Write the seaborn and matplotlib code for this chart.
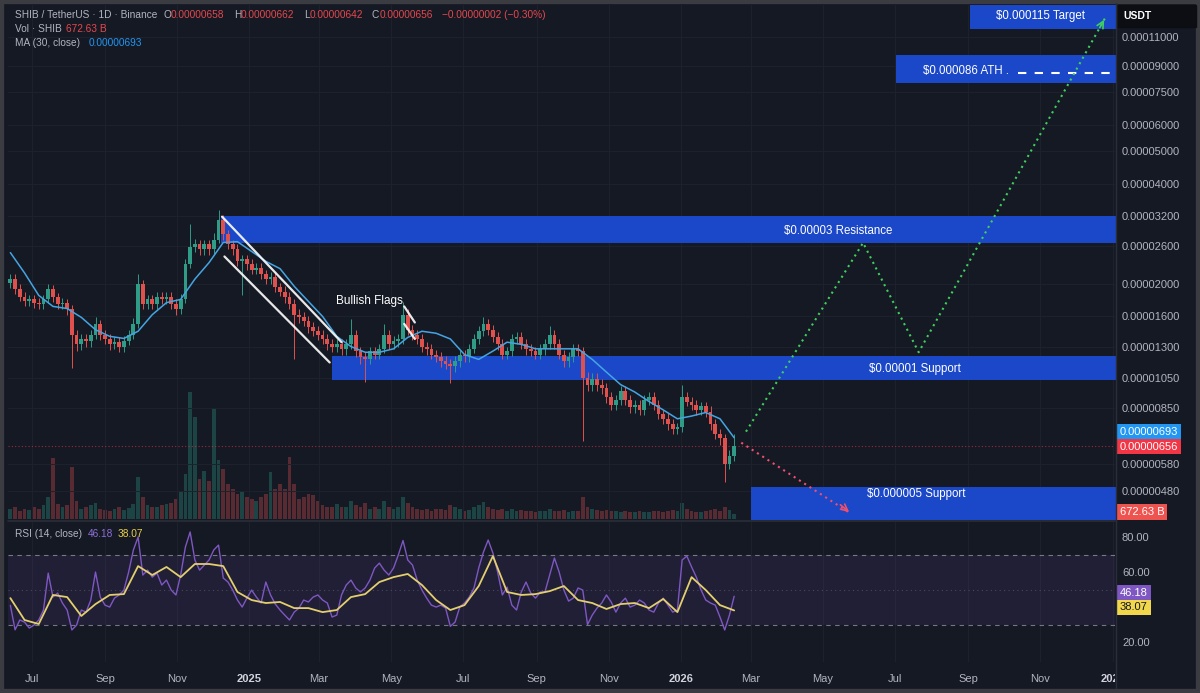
import matplotlib
matplotlib.use("Agg")
import matplotlib.pyplot as plt
import matplotlib.dates as mdates
from matplotlib.patches import Rectangle
from matplotlib.lines import Line2D
from matplotlib.ticker import NullLocator
from matplotlib.transforms import blended_transform_factory, Bbox, TransformedBbox
import numpy as np
import pandas as pd
import seaborn as sns

# ---- data ----
# 4-day candles from 2024-06-13, prices in units of 1e-6 USDT
candle_start = "2024-06-13"
candle_step = "4D"
first_open_e6 = 20.2

close_e6 = [
    20.7, 19.3, 18.35, 17.75, 18.0, 17.6, 17.4, 18.0, 19.3, 18.25,
    17.4, 17.6, 16.8, 14.1, 13.2, 13.7, 13.5, 14.1, 15.2, 14.1,
    13.7, 13.2, 13.4, 12.95, 13.5, 14.1, 15.2, 20.0, 17.4, 18.0,
    17.4, 18.25, 18.0, 18.35, 17.4, 16.8, 18.0, 22.9, 25.75, 26.3,
    25.4, 26.3, 25.4, 27.2, 31.2, 28.2, 26.3, 25.4, 23.4, 23.7,
    22.9, 22.1, 22.4, 21.4, 20.7, 21.0, 19.55, 19.0, 18.25, 17.4,
    16.2, 15.9, 15.5, 14.85, 14.45, 14.1, 13.7, 13.2, 12.95, 13.2,
    12.8, 13.2, 14.1, 12.6, 12.1, 11.9, 12.6, 12.3, 12.8, 14.1,
    13.2, 13.5, 13.7, 16.2, 14.6, 14.1, 13.7, 12.95, 12.8, 12.3,
    12.1, 11.75, 11.5, 11.35, 11.75, 12.3, 12.15, 12.8, 13.7, 14.45,
    15.2, 14.6, 13.9, 13.2, 12.3, 12.6, 13.7, 13.9, 13.2, 12.8,
    12.6, 12.3, 12.8, 13.2, 14.1, 13.2, 12.3, 11.75, 12.1, 12.8,
    12.6, 10.5, 10.0, 10.4, 10.0, 9.8, 9.15, 8.7, 9.0, 9.55,
    9.0, 8.55, 8.7, 8.4, 9.0, 9.15, 8.7, 8.15, 7.9, 7.6,
    7.35, 7.45, 9.15, 8.9, 8.7, 8.4, 8.6, 8.3, 7.6, 7.1,
    6.9, 5.8, 6.1, 6.56,
]
high_e6 = [
    21.4, 21.4, 20.0, 19.0, 18.6, 18.6, 18.2, 18.6, 20.0, 19.9,
    18.8, 18.2, 18.1, 17.3, 14.6, 14.2, 14.2, 14.6, 15.9, 15.6,
    14.6, 14.2, 13.9, 13.9, 14.0, 14.6, 15.8, 21.4, 20.6, 18.6,
    18.6, 18.9, 18.9, 19.0, 19.0, 18.0, 18.7, 23.7, 30.2, 27.3,
    27.2, 27.2, 27.2, 28.5, 33.4, 32.3, 29.1, 27.2, 26.3, 24.5,
    24.5, 23.7, 23.2, 23.2, 22.1, 21.7, 21.7, 20.2, 19.7, 18.9,
    18.0, 16.8, 16.5, 16.0, 15.4, 15.0, 14.6, 14.2, 13.7, 13.7,
    13.7, 13.7, 15.7, 14.6, 13.0, 12.5, 13.0, 13.0, 13.2, 15.2,
    14.6, 14.0, 14.2, 17.7, 16.8, 15.1, 14.6, 14.2, 13.4, 13.2,
    12.7, 12.5, 12.2, 11.9, 12.2, 12.7, 12.7, 13.2, 14.2, 15.0,
    15.9, 15.7, 15.1, 14.4, 13.7, 13.0, 14.2, 14.4, 14.4, 13.7,
    13.2, 13.0, 13.2, 13.7, 15.0, 14.6, 13.7, 12.7, 12.5, 13.2,
    13.2, 13.0, 10.9, 10.8, 10.8, 10.4, 10.1, 9.5, 9.3, 9.9,
    9.9, 9.3, 9.0, 9.0, 9.3, 9.5, 9.5, 9.0, 8.4, 8.2,
    7.9, 7.7, 10.0, 9.5, 9.2, 9.0, 8.9, 8.9, 8.6, 7.9,
    7.35, 7.1, 6.35, 7.1,
]
low_e6 = [
    19.5, 18.7, 17.8, 17.2, 17.2, 17.0, 16.8, 16.9, 17.6, 17.7,
    16.9, 16.9, 16.2, 11.2, 12.6, 12.7, 13.0, 13.0, 13.7, 13.6,
    13.2, 12.7, 12.8, 12.5, 12.5, 13.1, 13.7, 14.8, 16.9, 16.9,
    16.8, 16.9, 17.4, 17.4, 16.8, 16.2, 16.3, 17.5, 22.3, 24.9,
    24.5, 24.5, 24.5, 24.6, 26.6, 27.2, 25.4, 24.5, 22.6, 18.6,
    22.1, 21.4, 21.4, 20.7, 20.0, 20.0, 18.9, 18.4, 17.6, 16.8,
    11.9, 15.3, 15.0, 14.3, 14.0, 13.6, 13.2, 12.7, 12.5, 12.5,
    12.3, 12.3, 12.8, 12.1, 11.5, 10.2, 11.5, 11.9, 11.9, 12.4,
    12.8, 12.8, 13.0, 13.2, 14.1, 13.6, 13.2, 12.5, 12.3, 11.9,
    11.7, 11.3, 11.1, 10.1, 10.9, 11.3, 11.7, 11.7, 12.4, 13.2,
    14.0, 14.1, 13.4, 12.7, 11.9, 11.9, 12.2, 13.2, 12.8, 12.3,
    12.2, 11.9, 11.9, 12.3, 12.8, 12.8, 11.9, 11.3, 11.3, 11.7,
    12.2, 6.8, 9.6, 9.6, 9.6, 9.4, 8.8, 8.4, 8.4, 8.7,
    8.7, 8.2, 8.2, 8.1, 8.1, 8.7, 8.4, 7.9, 7.6, 7.3,
    7.1, 7.1, 7.2, 8.6, 8.4, 8.1, 8.1, 8.0, 7.3, 6.85,
    6.6, 5.1, 5.6, 5.9,
]
# volume in billions of SHIB
vol_b = [
    1265, 1520, 1010, 1265, 1140, 1520, 1265, 1770, 2780, 7720, 1900,
    1520, 1770, 6580, 2280, 1265, 1520, 1770, 2020, 1265, 1140,
    1010, 1265, 1520, 1140, 1390, 1900, 5310, 2780, 1770, 1520,
    1520, 1770, 1900, 2020, 2530, 3540, 5690, 16070, 12900, 5060,
    6070, 4810, 14040, 7460, 6330, 4430, 3800, 3160, 3540, 2780,
    2530, 2280, 2780, 3160, 5950, 3800, 4430, 3800, 7840, 4430,
    2530, 2780, 3160, 3040, 2280, 1770, 1520, 1520, 1900, 1520,
    1520, 2280, 1770, 1520, 2020, 1265, 1520, 1265, 2280, 1520,
    1265, 1520, 2780, 2020, 1520, 1265, 1140, 1265, 1010, 1265,
    1265, 1140, 1770, 1520, 1265, 1010, 1140, 1520, 1770, 2150,
    1520, 1265, 1140, 1265, 1010, 1265, 1010, 1140, 1010, 1010,
    890, 1010, 1010, 1265, 1010, 1010, 1140, 890, 1010, 1010,
    2780, 1520, 1265, 1140, 1010, 1140, 1010, 1010, 890, 1010,
    890, 890, 1010, 890, 890, 1010, 1010, 890, 1010, 1140,
    1010, 2020, 1265, 1010, 890, 890, 1010, 1140, 1265, 1010,
    1520, 1140, 672.63,
]
rsi = [
    41, 27, 32.6, 31.4, 28, 29.7, 32.6, 38.3, 59.4, 45.7,
    48, 42.3, 38.3, 26.9, 29.7, 38.3, 37.1, 44, 60, 45.7,
    41.1, 40, 45.1, 46.9, 49.7, 60, 72.6, 80, 58.3, 61.1,
    57.1, 59.4, 52.6, 55.4, 49.7, 46.9, 58.3, 74.3, 82.9, 66.9,
    61.1, 64, 66.9, 72.6, 75.4, 56.6, 54.3, 49.7, 44, 40,
    45.1, 49.7, 45.7, 42.3, 54.3, 46.9, 41.7, 38.3, 35.4, 32.6,
    37.1, 39.4, 44, 42.9, 45.7, 46.9, 44, 42.3, 34.3, 35.4,
    46.9, 52.6, 55.4, 50.9, 48.6, 50.9, 55.4, 62.3, 65.1, 61.1,
    58.3, 62.3, 69.7, 78, 66.9, 64, 55.4, 49.7, 45.1, 41.1,
    40, 41.1, 39.4, 29, 31.4, 40, 42.3, 45.7, 50.9, 62.3,
    71.4, 78.3, 70.9, 60, 46.9, 51.4, 41.1, 38.3, 48.6, 54.3,
    48, 45.1, 48.6, 48.6, 58.3, 68, 60, 49.7, 43.4, 45.1,
    50.9, 49.7, 30, 35.4, 39.4, 42.3, 46.9, 42.9, 37.1, 42.3,
    45.1, 40, 41.1, 44, 42.3, 38.3, 37.1, 42.3, 45.1, 41.1,
    37.1, 38.3, 66.9, 69.1, 62.9, 57.1, 49.7, 44, 42.3, 41.1,
    34.3, 26.9, 35.4, 46.18,
]
# every third candle
ma30_e6 = [
    24.85, 21.6, 18.5, 17.15, 16.9, 15.9, 14.6, 13.95, 13.75, 14.45,
    16.2, 17.6, 18.0, 20.7, 23.2, 26.65, 26.8, 25.05, 23.4, 22.25,
    19.7, 17.75, 16.0, 13.95, 13.0, 12.5, 12.5, 12.8, 13.85, 14.45,
    14.25, 13.7, 12.3, 11.9, 12.6, 13.4, 13.2, 12.8, 12.8, 12.8,
    12.8, 11.9, 10.9, 10.0, 9.5, 8.9, 8.4, 7.9, 8.05, 8.25,
    7.9, 6.93,
]
rsi_ma = [
    45.1, 32.6, 30.3, 46.9, 45.7, 34.9, 41.7, 46.9, 47.4, 63.4,
    58.3, 62.9, 57.1, 64.6, 64.6, 63.4, 48.6, 44, 42.3, 42.9,
    39.4, 39.4, 37.1, 38.3, 45.7, 47.4, 54.3, 57.1, 58.9, 52.6,
    44, 38.3, 41.1, 52, 69.1, 48.6, 46.9, 47.4, 49.1, 52,
    44, 42.3, 38.9, 41.7, 42.3, 39.4, 44.6, 37.1, 57.1, 49.7,
    41.1, 38.07,
]
price_ticks_e6 = [110, 90, 75, 60, 50, 40, 32, 26, 20, 16, 13, 10.5, 8.5, 5.8, 4.8]
rsi_ticks = [20, 60, 80]

# drawn zones and projections
zone_names = ["$0.00003 Resistance", "$0.00001 Support", "$0.000005 Support",
              "$0.000086 ATH .", "$0.000115 Target"]
zone_start = ["2024-12-08", "2025-03-12", "2026-03-01", "2026-07-02", "2026-09-02"]
zone_low_e6 = [26.6, 10.3, 3.5, 80.1, 116.0]
zone_high_e6 = [31.9, 12.2, 4.94, 97.2, 145.0]
zone_text_at = ["2026-05-14", "2026-07-18", "2026-07-19", "2026-08-30", "2026-11-01"]
zone_text_e6 = [28.9, 11.1, 4.71, 87.1, 127.0]
ath_e6 = 86.0
ath_dash_from = "2026-10-13"
bull_dates = ["2026-02-25", "2026-06-04", "2026-07-21", "2026-12-26"]
bull_e6 = [7.23, 26.6, 12.5, 126.0]
bear_dates = ["2026-02-21", "2026-05-25"]
bear_e6 = [6.7, 4.1]
trend_lines = [
    (["2024-12-09", "2025-03-20"], [31.85, 13.4]),
    (["2024-12-11", "2025-03-10"], [24.2, 11.65]),
    (["2025-05-12", "2025-05-21"], [17.15, 15.35]),
    (["2025-05-12", "2025-05-21"], [15.2, 13.7]),
]

# ---- styling ----
BG = "#151924"
GRID = "#1e222d"
TXT = "#b2b5be"
UP, DN = "#2e9c86", "#e0514e"
BLUE = "#1b47c9"

sns.set_theme(style="dark", rc={"axes.facecolor": BG, "figure.facecolor": BG})
plt.rcParams["font.family"] = ["Liberation Sans", "DejaVu Sans"]

W, H = 1200, 693
fig = plt.figure(figsize=(W / 100, H / 100), dpi=100)


def rect(x0, y0, x1, y1):
    return [x0 / W, 1 - y1 / H, (x1 - x0) / W, (y1 - y0) / H]


vol_ax = fig.add_axes(rect(8, 5, 1115, 519))
ax = fig.add_axes(rect(8, 5, 1115, 519))
rax = fig.add_axes(rect(8, 522, 1115, 662))
ax.set_facecolor("none")

dates = pd.date_range(candle_start, periods=len(close_e6), freq=candle_step)
x = mdates.date2num(dates)
c = np.array(close_e6) * 1e-6
o = np.r_[first_open_e6 * 1e-6, c[:-1]]
hi = np.array(high_e6) * 1e-6
lo = np.array(low_e6) * 1e-6
cols = np.where(c >= o, UP, DN)
xmin = mdates.date2num(pd.Timestamp("2024-06-11"))
xmax = mdates.date2num(pd.Timestamp("2027-01-03"))
d2n = lambda s: mdates.date2num(pd.to_datetime(s))

# volume
vol_ax.bar(x, vol_b, width=3.2, color=cols, alpha=0.33, linewidth=0)
vol_ax.set_xlim(xmin, xmax)
vol_ax.set_ylim(0, 65000)
vol_ax.set_xticks([])
vol_ax.set_yticks([])

# price pane
ax.set_yscale("log")
for nm, s, lo_, hi_, tx, ty in zip(zone_names, zone_start, zone_low_e6, zone_high_e6,
                                   zone_text_at, zone_text_e6):
    ax.fill_between([d2n(s), xmax + 10], lo_ * 1e-6, hi_ * 1e-6, color=BLUE, lw=0, zorder=2)
    ax.text(d2n(tx), ty * 1e-6, nm, color="white", fontsize=8.3, ha="center",
            va="center", zorder=7)
ax.plot([d2n(ath_dash_from), xmax], [ath_e6 * 1e-6] * 2, color="white", lw=1.5,
        ls=(0, (4, 4)), zorder=6)

ax.vlines(x, lo, hi, colors=cols, lw=0.7, zorder=3)
ax.bar(x, np.maximum(np.abs(c - o), 0.006 * c), bottom=np.minimum(o, c), width=3.2,
       color=cols, linewidth=0, zorder=4)
sns.lineplot(x=x[::3], y=np.array(ma30_e6) * 1e-6, ax=ax, color="#45a5e2", lw=1.1,
             zorder=5, legend=False)

for ds, ps in trend_lines:
    ax.plot([d2n(d) for d in ds], np.array(ps) * 1e-6, color="white", lw=1.6,
            alpha=0.9, zorder=6)
ax.text(d2n("2025-04-13"), 17.75e-6, "Bullish Flags", color="white", fontsize=8.5,
        ha="center", va="center", zorder=7)

ax.plot([d2n(d) for d in bull_dates], np.array(bull_e6) * 1e-6, color="#3fcf5c",
        lw=1.5, ls=(0, (1, 2)), zorder=6)
ax.plot([d2n(d) for d in bear_dates], np.array(bear_e6) * 1e-6, color="#f0506e",
        lw=1.5, ls=(0, (1, 2)), zorder=6)
ax.annotate("", xy=(d2n(bull_dates[-1]), bull_e6[-1] * 1e-6),
            xytext=(d2n("2026-12-20"), 115.4e-6),
            arrowprops=dict(arrowstyle="->", color="#3fcf5c", lw=1.2), zorder=6)
ax.annotate("", xy=(d2n(bear_dates[-1]), bear_e6[-1] * 1e-6),
            xytext=(d2n("2026-05-14"), 4.42e-6),
            arrowprops=dict(arrowstyle="->", color="#f0506e", lw=1.2), zorder=6)
ax.axhline(close_e6[-1] * 1e-6, color="#f23645", lw=0.8, ls=(0, (1, 2)), alpha=0.6,
           zorder=2.5)

ax.set_xlim(xmin, xmax)
ax.set_ylim(3.958e-6, 1.371e-4)
ax.yaxis.tick_right()
ax.set_yticks([v * 1e-6 for v in price_ticks_e6],
              [f"{v * 1e-6:.8f}" for v in price_ticks_e6])
ax.yaxis.set_minor_locator(NullLocator())
ax.tick_params(axis="y", length=0, pad=5, labelsize=8, labelcolor=TXT)

xt = pd.date_range("2024-07-01", "2027-01-01", freq="2MS")
xt_lab = [d.strftime("%Y") if d.month == 1 else d.strftime("%b") for d in xt]
ax.set_xticks(mdates.date2num(xt))
ax.tick_params(axis="x", labelbottom=False, length=0)
ax.grid(True, color=GRID, lw=0.7)
for a in (ax, vol_ax, rax):
    for sp in a.spines.values():
        sp.set_visible(False)

# RSI pane
rax.axhspan(30, 70, color="#7e57c2", alpha=0.11, lw=0)
for lvl, ls, al in [(70, (0, (4, 4)), 0.75), (30, (0, (4, 4)), 0.75), (50, (0, (1, 3)), 0.35)]:
    rax.axhline(lvl, color="#9598a1", lw=0.8, ls=ls, alpha=al)
sns.lineplot(x=x, y=rsi, ax=rax, color="#7e57c2", lw=1.0, legend=False)
sns.lineplot(x=x[::3], y=rsi_ma, ax=rax, color="#e3cf6e", lw=1.3, legend=False)
rax.set_xlim(xmin, xmax)
rax.set_ylim(8.6, 88.6)
rax.yaxis.tick_right()
rax.set_yticks(rsi_ticks, [f"{v:.2f}" for v in rsi_ticks])
rax.tick_params(axis="y", length=0, pad=5, labelsize=8, labelcolor=TXT)
rax.set_xticks(mdates.date2num(xt), xt_lab)
rax.tick_params(axis="x", length=0, pad=9, labelsize=8, labelcolor=TXT)
rax.xaxis.grid(True, color=GRID, lw=0.7)
rax.yaxis.grid(False)
rax.set_xlabel("")
rax.set_ylabel("")
ax.set_xlabel("")
ax.set_ylabel("")
clip = TransformedBbox(Bbox.from_extents(0, 0, 1115 / W, 1), fig.transFigure)
for lbl, d in zip(rax.get_xticklabels(), xt):
    if d.month == 1:
        lbl.set_fontweight("bold")
        lbl.set_color("#d1d4dc")
    lbl.set_clip_on(True)
    lbl.set_clip_box(clip)

# right-side value tags
bt = blended_transform_factory(ax.transAxes, ax.transData)
vt = blended_transform_factory(vol_ax.transAxes, vol_ax.transData)
rt = blended_transform_factory(rax.transAxes, rax.transData)


def tag(axis, tr, val, text, fc, tc, dy):
    axis.annotate(text, xy=(1, val), xycoords=tr, xytext=(3.6, dy),
                  textcoords="offset points", ha="left", va="center", fontsize=8,
                  color=tc, annotation_clip=False, zorder=10,
                  bbox=dict(boxstyle="square,pad=0.25", fc=fc, ec="none"))


tag(ax, bt, ma30_e6[-1] * 1e-6, f"{ma30_e6[-1] * 1e-6:.8f}", "#2196f3", "white", 4.3)
tag(ax, bt, close_e6[-1] * 1e-6, f"{close_e6[-1] * 1e-6:.8f}", "#f23645", "white", -0.7)
tag(vol_ax, vt, vol_b[-1], f"{vol_b[-1]:.2f} B", "#ef5350", "white", 1.2)
tag(rax, rt, rsi[-1], f"{rsi[-1]:.2f}", "#7e57c2", "white", 2.2)
tag(rax, rt, rsi_ma[-1], f"{rsi_ma[-1]:.2f}", "#f2d64b", "#131722", 2.2)

# frame, separators, legend text
fig.add_artist(Line2D([8 / W, 1115 / W], [1 - 520.5 / H] * 2, color="#2a2e39", lw=1.2))
fig.add_artist(Line2D([1115.5 / W] * 2, [1 - 688 / H, 1 - 3 / H], color="#2a2e39", lw=1))
fig.add_artist(Rectangle((1118 / W, 1 - 27 / H), 78 / W, 22 / H, transform=fig.transFigure,
                         color="#0c0e13", zorder=5))
fig.text(1123 / W, 1 - 16 / H, "USDT", color="white", fontsize=7.5, fontweight="bold",
         ha="left", va="center", zorder=6)
fig.add_artist(Rectangle((0, 0), 1, 1, transform=fig.transFigure, fill=False,
                         edgecolor="#3a3c42", lw=6))


def ftext(px, py, s, color, size=7.3):
    fig.text(px / W, 1 - py / H, s, color=color, fontsize=size, ha="left", va="center")


RED = "#e5484d"
for px, s, col in [(15, "SHIB / TetherUS · 1D · Binance", TXT), (164, "O", TXT),
                   (171, "0.00000658", RED), (234, "H", TXT), (241, "0.00000662", RED),
                   (304, "L", TXT), (310, "0.00000642", RED), (372, "C", TXT),
                   (380, "0.00000656", RED), (442, "−0.00000002 (−0.30%)", RED)]:
    ftext(px, 15, s, col)
ftext(15, 29, "Vol · SHIB", TXT)
ftext(66, 29, "672.63 B", RED)
ftext(15, 43, "MA (30, close)", TXT)
ftext(89, 43, "0.00000693", "#2196f3")
ftext(15, 534, "RSI (14, close)", TXT)
ftext(88, 534, "46.18", "#8e6fd6")
ftext(118, 534, "38.07", "#e8cf4a")

fig.savefig("out.png", dpi=100, facecolor=BG)
